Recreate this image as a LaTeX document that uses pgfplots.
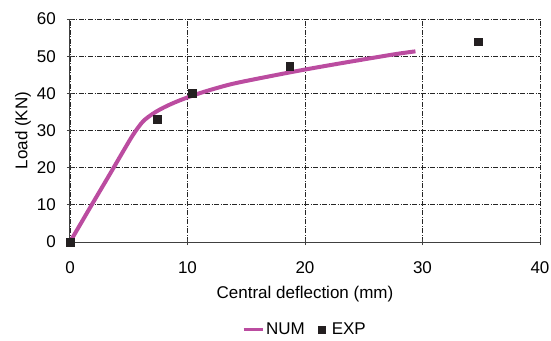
\documentclass[border=0pt]{standalone}
\usepackage{fontspec}
\setmainfont{Liberation Sans}
\usepackage{pgfplots}
\pgfplotsset{compat=1.18}
\definecolor{numc}{RGB}{187,76,160}
\definecolor{expc}{RGB}{35,31,32}
\begin{document}
\begin{tikzpicture}[font=\fontsize{17}{19}\selectfont]
\useasboundingbox (-70pt,-98pt) rectangle (481pt,242pt);
\begin{axis}[
  at={(0pt,0pt)}, anchor=south west,
  scale only axis, width=470pt, height=223pt,
  xmin=0, xmax=40, ymin=0, ymax=60,
  xtick={0,10,20,30,40}, ytick={0,10,20,30,40,50,60},
  axis x line*=bottom, axis y line*=left,
  axis line style={black!75, line width=1pt},
  tick style={black!75, line width=1pt},
  tick align=center, major tick length=6pt,
  grid=major,
  major grid style={black!85, line width=0.7pt, dash pattern=on 5pt off 1.5pt on 1pt off 1.5pt},
  /pgf/number format/assume math mode=true,
  tick label style={font=\fontsize{17}{19}\selectfont, inner sep=0pt},
  xticklabel style={anchor=north, yshift=-16pt},
  yticklabel style={anchor=east, xshift=-11pt},
  xlabel={Central deflection (mm)},
  ylabel={Load (KN)},
  xlabel style={at={([yshift=-44pt]axis description cs:0.5,0)}, anchor=north, inner sep=0pt, font=\fontsize{17}{19}\selectfont},
  ylabel style={at={([xshift=-39pt]axis description cs:0,0.5)}, anchor=south, rotate=0, inner sep=0pt, font=\fontsize{17}{19}\selectfont},
  legend style={at={([yshift=-79pt]axis description cs:0.5,0)}, anchor=north, draw=none, inner sep=0pt, legend columns=2,
    font=\fontsize{17}{19}\selectfont,
    nodes={inner sep=2pt},
    /tikz/every even column/.append style={column sep=11pt}},
  legend cell align=left,
]
\addplot[numc, line width=4pt, smooth, tension=0.5,
  legend image code/.code={\draw[numc, line width=3pt] (0pt,0pt) -- (19pt,0pt);}] coordinates {
(0,0) (1.7,9.2) (3.4,18.3) (4.6,24.8) (5.4,29.0) (6.2,32.4) (7.0,34.4) (7.8,35.9) (8.8,37.4) (10,38.9) (11.5,40.5) (13.9,42.6) (17.5,44.9) (20,46.4) (22.7,47.9) (25.5,49.4) (27.8,50.6) (29.4,51.3)
};
\addlegendentry{NUM}
\addplot[only marks, mark=square*, mark size=3.9pt, expc,
  legend image code/.code={\path (-3.5pt,0pt) (8pt,0pt); \fill[expc] (-3.5pt,-3.5pt) rectangle (3.5pt,3.5pt);}] coordinates {
(0,0) (7.45,33.1) (10.4,40.1) (18.7,47.2) (34.75,53.9)
};
\addlegendentry{EXP}
\end{axis}
\end{tikzpicture}
\end{document}
